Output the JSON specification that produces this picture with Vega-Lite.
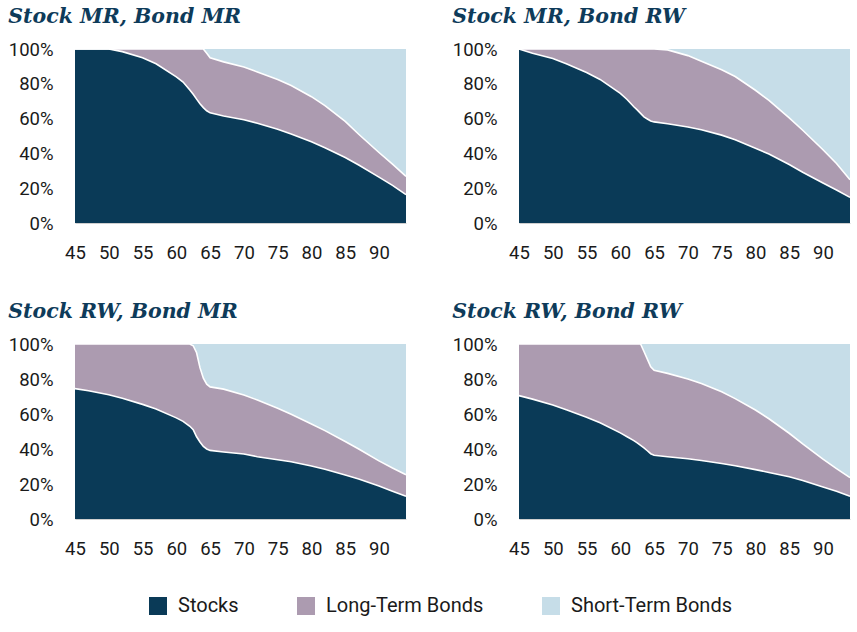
{
  "$schema": "https://vega.github.io/schema/vega-lite/v6.json",
  "padding": {"left": 8, "top": 6, "right": 5, "bottom": 5},
  "background": "white",
  "datasets": {
    "alloc": [
      {"p": "Stock MR, Bond MR", "age": 45, "S": 100, "T": 100},
      {"p": "Stock MR, Bond MR", "age": 47, "S": 100, "T": 100},
      {"p": "Stock MR, Bond MR", "age": 50, "S": 100, "T": 100},
      {"p": "Stock MR, Bond MR", "age": 52, "S": 98.5, "T": 100},
      {"p": "Stock MR, Bond MR", "age": 55, "S": 95, "T": 100},
      {"p": "Stock MR, Bond MR", "age": 57, "S": 91.5, "T": 100},
      {"p": "Stock MR, Bond MR", "age": 60, "S": 84, "T": 100},
      {"p": "Stock MR, Bond MR", "age": 61, "S": 81, "T": 100},
      {"p": "Stock MR, Bond MR", "age": 62, "S": 76.5, "T": 100},
      {"p": "Stock MR, Bond MR", "age": 62.5, "S": 74, "T": 100},
      {"p": "Stock MR, Bond MR", "age": 63, "S": 71.2, "T": 100},
      {"p": "Stock MR, Bond MR", "age": 63.5, "S": 68.5, "T": 100},
      {"p": "Stock MR, Bond MR", "age": 64, "S": 66.3, "T": 100},
      {"p": "Stock MR, Bond MR", "age": 64.5, "S": 64.5, "T": 97.5},
      {"p": "Stock MR, Bond MR", "age": 65, "S": 63.3, "T": 95},
      {"p": "Stock MR, Bond MR", "age": 67, "S": 61.5, "T": 92.6},
      {"p": "Stock MR, Bond MR", "age": 70, "S": 59.3, "T": 89.6},
      {"p": "Stock MR, Bond MR", "age": 72, "S": 57.3, "T": 86.8},
      {"p": "Stock MR, Bond MR", "age": 75, "S": 53.9, "T": 82.5},
      {"p": "Stock MR, Bond MR", "age": 77, "S": 51.2, "T": 79},
      {"p": "Stock MR, Bond MR", "age": 80, "S": 46.7, "T": 72.6},
      {"p": "Stock MR, Bond MR", "age": 82, "S": 43.2, "T": 67.5},
      {"p": "Stock MR, Bond MR", "age": 85, "S": 37.6, "T": 58.4},
      {"p": "Stock MR, Bond MR", "age": 87, "S": 33.3, "T": 51},
      {"p": "Stock MR, Bond MR", "age": 90, "S": 26.4, "T": 40.5},
      {"p": "Stock MR, Bond MR", "age": 92, "S": 21.6, "T": 33.8},
      {"p": "Stock MR, Bond MR", "age": 94, "S": 16.3, "T": 26.8},

      {"p": "Stock MR, Bond RW", "age": 45, "S": 100, "T": 100},
      {"p": "Stock MR, Bond RW", "age": 47, "S": 97.5, "T": 100},
      {"p": "Stock MR, Bond RW", "age": 50, "S": 94.5, "T": 100},
      {"p": "Stock MR, Bond RW", "age": 52, "S": 91.5, "T": 100},
      {"p": "Stock MR, Bond RW", "age": 55, "S": 86.5, "T": 100},
      {"p": "Stock MR, Bond RW", "age": 57, "S": 82.5, "T": 100},
      {"p": "Stock MR, Bond RW", "age": 60, "S": 74.5, "T": 100},
      {"p": "Stock MR, Bond RW", "age": 61, "S": 71, "T": 100},
      {"p": "Stock MR, Bond RW", "age": 62, "S": 66.8, "T": 100},
      {"p": "Stock MR, Bond RW", "age": 62.5, "S": 65, "T": 100},
      {"p": "Stock MR, Bond RW", "age": 63, "S": 63, "T": 100},
      {"p": "Stock MR, Bond RW", "age": 63.5, "S": 61, "T": 100},
      {"p": "Stock MR, Bond RW", "age": 64, "S": 59.8, "T": 100},
      {"p": "Stock MR, Bond RW", "age": 64.5, "S": 58.6, "T": 100},
      {"p": "Stock MR, Bond RW", "age": 65, "S": 58.1, "T": 100},
      {"p": "Stock MR, Bond RW", "age": 67, "S": 57, "T": 99.5},
      {"p": "Stock MR, Bond RW", "age": 70, "S": 55.2, "T": 96.2},
      {"p": "Stock MR, Bond RW", "age": 72, "S": 53.6, "T": 93},
      {"p": "Stock MR, Bond RW", "age": 75, "S": 50.5, "T": 88.1},
      {"p": "Stock MR, Bond RW", "age": 77, "S": 47.8, "T": 84.2},
      {"p": "Stock MR, Bond RW", "age": 80, "S": 43, "T": 76.3},
      {"p": "Stock MR, Bond RW", "age": 82, "S": 39.6, "T": 70.5},
      {"p": "Stock MR, Bond RW", "age": 85, "S": 33.6, "T": 60.4},
      {"p": "Stock MR, Bond RW", "age": 87, "S": 29.2, "T": 53.3},
      {"p": "Stock MR, Bond RW", "age": 90, "S": 23, "T": 42.1},
      {"p": "Stock MR, Bond RW", "age": 92, "S": 19, "T": 34.2},
      {"p": "Stock MR, Bond RW", "age": 94, "S": 14.7, "T": 24.8},

      {"p": "Stock RW, Bond MR", "age": 45, "S": 74.5, "T": 100},
      {"p": "Stock RW, Bond MR", "age": 47, "S": 73.3, "T": 100},
      {"p": "Stock RW, Bond MR", "age": 50, "S": 71, "T": 100},
      {"p": "Stock RW, Bond MR", "age": 52, "S": 69, "T": 100},
      {"p": "Stock RW, Bond MR", "age": 55, "S": 65.5, "T": 100},
      {"p": "Stock RW, Bond MR", "age": 57, "S": 62.8, "T": 100},
      {"p": "Stock RW, Bond MR", "age": 60, "S": 57.8, "T": 100},
      {"p": "Stock RW, Bond MR", "age": 61, "S": 55.8, "T": 100},
      {"p": "Stock RW, Bond MR", "age": 62, "S": 53, "T": 100},
      {"p": "Stock RW, Bond MR", "age": 62.5, "S": 51, "T": 99},
      {"p": "Stock RW, Bond MR", "age": 63, "S": 47, "T": 95},
      {"p": "Stock RW, Bond MR", "age": 63.5, "S": 44, "T": 86.5},
      {"p": "Stock RW, Bond MR", "age": 64, "S": 41.5, "T": 80.5},
      {"p": "Stock RW, Bond MR", "age": 64.5, "S": 40, "T": 77},
      {"p": "Stock RW, Bond MR", "age": 65, "S": 39.2, "T": 75.5},
      {"p": "Stock RW, Bond MR", "age": 67, "S": 38.3, "T": 74.2},
      {"p": "Stock RW, Bond MR", "age": 70, "S": 37.1, "T": 70.8},
      {"p": "Stock RW, Bond MR", "age": 72, "S": 35.6, "T": 68},
      {"p": "Stock RW, Bond MR", "age": 75, "S": 33.9, "T": 63.3},
      {"p": "Stock RW, Bond MR", "age": 77, "S": 32.7, "T": 59.8},
      {"p": "Stock RW, Bond MR", "age": 80, "S": 30.3, "T": 54.3},
      {"p": "Stock RW, Bond MR", "age": 82, "S": 28.4, "T": 50.5},
      {"p": "Stock RW, Bond MR", "age": 85, "S": 25.1, "T": 44.3},
      {"p": "Stock RW, Bond MR", "age": 87, "S": 22.8, "T": 40},
      {"p": "Stock RW, Bond MR", "age": 90, "S": 18.8, "T": 33.2},
      {"p": "Stock RW, Bond MR", "age": 92, "S": 15.9, "T": 29.1},
      {"p": "Stock RW, Bond MR", "age": 94, "S": 13, "T": 25.3},

      {"p": "Stock RW, Bond RW", "age": 45, "S": 70.5, "T": 100},
      {"p": "Stock RW, Bond RW", "age": 47, "S": 68.5, "T": 100},
      {"p": "Stock RW, Bond RW", "age": 50, "S": 65.2, "T": 100},
      {"p": "Stock RW, Bond RW", "age": 52, "S": 62.4, "T": 100},
      {"p": "Stock RW, Bond RW", "age": 55, "S": 58.2, "T": 100},
      {"p": "Stock RW, Bond RW", "age": 57, "S": 55, "T": 100},
      {"p": "Stock RW, Bond RW", "age": 60, "S": 49.2, "T": 100},
      {"p": "Stock RW, Bond RW", "age": 61, "S": 47, "T": 100},
      {"p": "Stock RW, Bond RW", "age": 62, "S": 44.8, "T": 100},
      {"p": "Stock RW, Bond RW", "age": 62.5, "S": 43.5, "T": 100},
      {"p": "Stock RW, Bond RW", "age": 63, "S": 42.1, "T": 100},
      {"p": "Stock RW, Bond RW", "age": 63.5, "S": 40.7, "T": 95.7},
      {"p": "Stock RW, Bond RW", "age": 64, "S": 39, "T": 91.4},
      {"p": "Stock RW, Bond RW", "age": 64.5, "S": 37.3, "T": 87},
      {"p": "Stock RW, Bond RW", "age": 65, "S": 36.4, "T": 85},
      {"p": "Stock RW, Bond RW", "age": 67, "S": 35.6, "T": 83.2},
      {"p": "Stock RW, Bond RW", "age": 70, "S": 34.4, "T": 80},
      {"p": "Stock RW, Bond RW", "age": 72, "S": 33.4, "T": 77.4},
      {"p": "Stock RW, Bond RW", "age": 75, "S": 31.7, "T": 72.7},
      {"p": "Stock RW, Bond RW", "age": 77, "S": 30.4, "T": 68.8},
      {"p": "Stock RW, Bond RW", "age": 80, "S": 28.2, "T": 62.3},
      {"p": "Stock RW, Bond RW", "age": 82, "S": 26.6, "T": 57.3},
      {"p": "Stock RW, Bond RW", "age": 85, "S": 24.1, "T": 49},
      {"p": "Stock RW, Bond RW", "age": 87, "S": 22, "T": 42.9},
      {"p": "Stock RW, Bond RW", "age": 90, "S": 18.3, "T": 34.2},
      {"p": "Stock RW, Bond RW", "age": 92, "S": 15.8, "T": 28.8},
      {"p": "Stock RW, Bond RW", "age": 94, "S": 13, "T": 23.6}
    ]
  },
  "columns": 2,
  "spacing": {"row": 39, "column": 42},
  "concat": [
    {
      "title": "Stock MR, Bond MR",
      "width": 331, "height": 174,
      "data": {"name": "alloc"},
      "transform": [{"filter": {"field": "p", "equal": "Stock MR, Bond MR"}}],
      "encoding": {"x": {"field": "age", "type": "quantitative", "scale": {"domain": [45, 94], "nice": false, "zero": false}, "axis": {"values": [45, 50, 55, 60, 65, 70, 75, 80, 85, 90], "title": null, "labelOverlap": false, "labelFlush": false}}},
      "layer": [
        {"mark": {"type": "area"}, "encoding": {"y": {"field": "T", "type": "quantitative", "stack": null, "scale": {"domain": [0, 100], "nice": false}, "axis": {"values": [0, 20, 40, 60, 80, 100], "tickCount": 6, "labelExpr": "datum.value + '%'", "title": null, "labelOverlap": false, "labelFlush": false, "labelSeparation": 0}}, "color": {"datum": "Long-Term Bonds", "type": "nominal", "scale": {"domain": ["Stocks", "Long-Term Bonds", "Short-Term Bonds"], "range": ["#0A3A57", "#AC9BB0", "#C6DDE8"]}, "legend": {"title": null}}}},
        {"mark": {"type": "area"}, "encoding": {"y": {"field": "S", "type": "quantitative", "stack": null, "axis": {"values": [0, 20, 40, 60, 80, 100], "tickCount": 6, "labelExpr": "datum.value + '%'", "title": null, "labelOverlap": false, "labelFlush": false, "labelSeparation": 0}}, "color": {"datum": "Stocks", "type": "nominal"}}},
        {"mark": {"type": "line", "color": "white", "strokeWidth": 1.6}, "encoding": {"y": {"field": "S", "type": "quantitative", "axis": {"values": [0, 20, 40, 60, 80, 100], "tickCount": 6, "labelExpr": "datum.value + '%'", "title": null, "labelOverlap": false, "labelFlush": false, "labelSeparation": 0}}}},
        {"mark": {"type": "line", "color": "white", "strokeWidth": 1.6}, "encoding": {"y": {"field": "T", "type": "quantitative", "axis": {"values": [0, 20, 40, 60, 80, 100], "tickCount": 6, "labelExpr": "datum.value + '%'", "title": null, "labelOverlap": false, "labelFlush": false, "labelSeparation": 0}}}}
      ]
    },
    {
      "title": "Stock MR, Bond RW",
      "width": 331, "height": 174,
      "data": {"name": "alloc"},
      "transform": [{"filter": {"field": "p", "equal": "Stock MR, Bond RW"}}],
      "encoding": {"x": {"field": "age", "type": "quantitative", "scale": {"domain": [45, 94], "nice": false, "zero": false}, "axis": {"values": [45, 50, 55, 60, 65, 70, 75, 80, 85, 90], "title": null, "labelOverlap": false, "labelFlush": false}}},
      "layer": [
        {"mark": {"type": "area"}, "encoding": {"y": {"field": "T", "type": "quantitative", "stack": null, "scale": {"domain": [0, 100], "nice": false}, "axis": {"values": [0, 20, 40, 60, 80, 100], "tickCount": 6, "labelExpr": "datum.value + '%'", "title": null, "labelOverlap": false, "labelFlush": false, "labelSeparation": 0}}, "color": {"datum": "Long-Term Bonds", "type": "nominal", "legend": {"title": null}}}},
        {"mark": {"type": "area"}, "encoding": {"y": {"field": "S", "type": "quantitative", "stack": null, "axis": {"values": [0, 20, 40, 60, 80, 100], "tickCount": 6, "labelExpr": "datum.value + '%'", "title": null, "labelOverlap": false, "labelFlush": false, "labelSeparation": 0}}, "color": {"datum": "Stocks", "type": "nominal"}}},
        {"mark": {"type": "line", "color": "white", "strokeWidth": 1.6}, "encoding": {"y": {"field": "S", "type": "quantitative", "axis": {"values": [0, 20, 40, 60, 80, 100], "tickCount": 6, "labelExpr": "datum.value + '%'", "title": null, "labelOverlap": false, "labelFlush": false, "labelSeparation": 0}}}},
        {"mark": {"type": "line", "color": "white", "strokeWidth": 1.6}, "encoding": {"y": {"field": "T", "type": "quantitative", "axis": {"values": [0, 20, 40, 60, 80, 100], "tickCount": 6, "labelExpr": "datum.value + '%'", "title": null, "labelOverlap": false, "labelFlush": false, "labelSeparation": 0}}}}
      ]
    },
    {
      "title": "Stock RW, Bond MR",
      "width": 331, "height": 175,
      "data": {"name": "alloc"},
      "transform": [{"filter": {"field": "p", "equal": "Stock RW, Bond MR"}}],
      "encoding": {"x": {"field": "age", "type": "quantitative", "scale": {"domain": [45, 94], "nice": false, "zero": false}, "axis": {"values": [45, 50, 55, 60, 65, 70, 75, 80, 85, 90], "title": null, "labelOverlap": false, "labelFlush": false}}},
      "layer": [
        {"mark": {"type": "area"}, "encoding": {"y": {"field": "T", "type": "quantitative", "stack": null, "scale": {"domain": [0, 100], "nice": false}, "axis": {"values": [0, 20, 40, 60, 80, 100], "tickCount": 6, "labelExpr": "datum.value + '%'", "title": null, "labelOverlap": false, "labelFlush": false, "labelSeparation": 0}}, "color": {"datum": "Long-Term Bonds", "type": "nominal", "legend": {"title": null}}}},
        {"mark": {"type": "area"}, "encoding": {"y": {"field": "S", "type": "quantitative", "stack": null, "axis": {"values": [0, 20, 40, 60, 80, 100], "tickCount": 6, "labelExpr": "datum.value + '%'", "title": null, "labelOverlap": false, "labelFlush": false, "labelSeparation": 0}}, "color": {"datum": "Stocks", "type": "nominal"}}},
        {"mark": {"type": "line", "color": "white", "strokeWidth": 1.6}, "encoding": {"y": {"field": "S", "type": "quantitative", "axis": {"values": [0, 20, 40, 60, 80, 100], "tickCount": 6, "labelExpr": "datum.value + '%'", "title": null, "labelOverlap": false, "labelFlush": false, "labelSeparation": 0}}}},
        {"mark": {"type": "line", "color": "white", "strokeWidth": 1.6}, "encoding": {"y": {"field": "T", "type": "quantitative", "axis": {"values": [0, 20, 40, 60, 80, 100], "tickCount": 6, "labelExpr": "datum.value + '%'", "title": null, "labelOverlap": false, "labelFlush": false, "labelSeparation": 0}}}}
      ]
    },
    {
      "title": "Stock RW, Bond RW",
      "width": 331, "height": 175,
      "data": {"name": "alloc"},
      "transform": [{"filter": {"field": "p", "equal": "Stock RW, Bond RW"}}],
      "encoding": {"x": {"field": "age", "type": "quantitative", "scale": {"domain": [45, 94], "nice": false, "zero": false}, "axis": {"values": [45, 50, 55, 60, 65, 70, 75, 80, 85, 90], "title": null, "labelOverlap": false, "labelFlush": false}}},
      "layer": [
        {"mark": {"type": "area"}, "encoding": {"y": {"field": "T", "type": "quantitative", "stack": null, "scale": {"domain": [0, 100], "nice": false}, "axis": {"values": [0, 20, 40, 60, 80, 100], "tickCount": 6, "labelExpr": "datum.value + '%'", "title": null, "labelOverlap": false, "labelFlush": false, "labelSeparation": 0}}, "color": {"datum": "Long-Term Bonds", "type": "nominal", "legend": {"title": null}}}},
        {"mark": {"type": "area"}, "encoding": {"y": {"field": "S", "type": "quantitative", "stack": null, "axis": {"values": [0, 20, 40, 60, 80, 100], "tickCount": 6, "labelExpr": "datum.value + '%'", "title": null, "labelOverlap": false, "labelFlush": false, "labelSeparation": 0}}, "color": {"datum": "Stocks", "type": "nominal"}}},
        {"mark": {"type": "line", "color": "white", "strokeWidth": 1.6}, "encoding": {"y": {"field": "S", "type": "quantitative", "axis": {"values": [0, 20, 40, 60, 80, 100], "tickCount": 6, "labelExpr": "datum.value + '%'", "title": null, "labelOverlap": false, "labelFlush": false, "labelSeparation": 0}}}},
        {"mark": {"type": "line", "color": "white", "strokeWidth": 1.6}, "encoding": {"y": {"field": "T", "type": "quantitative", "axis": {"values": [0, 20, 40, 60, 80, 100], "tickCount": 6, "labelExpr": "datum.value + '%'", "title": null, "labelOverlap": false, "labelFlush": false, "labelSeparation": 0}}}}
      ]
    }
  ],
  "config": {
    "view": {"stroke": null, "fill": "#C6DDE8"},
    "font": "Roboto",
    "axis": {"labelFont": "Roboto", "labelFontSize": 18.5, "labelColor": "#1a1a1a", "ticks": false, "grid": false, "labelOverlap": false},
    "axisX": {"domain": true, "domainColor": "#cfcfcf", "domainWidth": 1, "labelPadding": 20},
    "axisY": {"domain": false, "labelPadding": 22, "labelOverlap": false},
    "title": {"font": "DejaVu Serif", "fontSize": 20.5, "fontStyle": "italic", "fontWeight": "bold", "color": "#0E3B5A", "anchor": "start", "frame": "bounds", "offset": 13},
    "legend": {"orient": "none", "legendX": 73, "legendY": 547, "padding": 0, "direction": "horizontal", "symbolType": "square", "symbolSize": 324, "symbolStrokeWidth": 0, "labelFont": "Roboto", "labelFontSize": 20, "labelColor": "#1a1a1a", "labelLimit": 400, "columnPadding": 57, "labelOffset": 10}
  }
}
